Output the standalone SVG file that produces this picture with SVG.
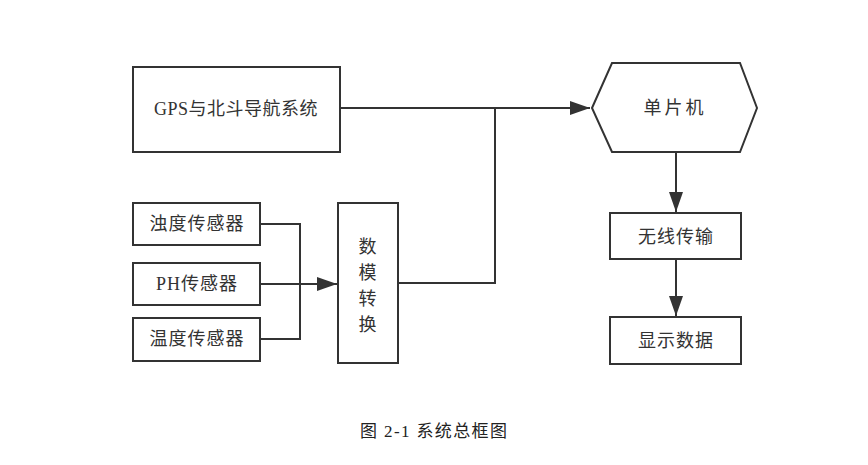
<svg xmlns="http://www.w3.org/2000/svg" width="868" height="465" viewBox="0 0 868 465">
<style>
.box{fill:#fff;stroke:#333;stroke-width:2}
.ln{fill:none;stroke:#333;stroke-width:2}
.t{font-family:"Liberation Serif","Noto Sans CJK SC",serif;font-size:18px;fill:#333;text-anchor:middle;dominant-baseline:central;letter-spacing:1px}
.cap{font-family:"Liberation Serif","Noto Sans CJK SC",serif;font-size:17px;fill:#222}
</style>
<defs>
<marker id="arL" viewBox="0 0 20 14" refX="20" refY="7" markerWidth="20" markerHeight="14" markerUnits="userSpaceOnUse" orient="auto">
<path d="M0,0 L20,7 L0,14 z" fill="#333"/>
</marker>
</defs>
<g id="connectors">
<path class="ln" d="M340,108 L590,108" marker-end="url(#arL)"/>
<path class="ln" d="M398,283 L495,283 L495,108"/>
<path class="ln" d="M260,224 L300,224 L300,339 L260,339"/>
<path class="ln" d="M260,284 L337,284" marker-end="url(#arL)"/>
<path class="ln" d="M676,152 L676,212" marker-end="url(#arL)"/>
<path class="ln" d="M676,259 L676,316" marker-end="url(#arL)"/>
</g>
<g id="gps"><rect class="box" x="133" y="67" width="207" height="85"/><text class="t" x="236" y="109" style="letter-spacing:0.5px">GPS与北斗导航系统</text></g>
<g id="mcu"><polygon class="box" points="592,108 612,63 740,63 757,108 740,152 612,152"/><text class="t" x="675" y="108" style="letter-spacing:3px">单片机</text></g>
<g id="turbidity"><rect class="box" x="133" y="203" width="127" height="42"/><text class="t" x="197" y="224">浊度传感器</text></g>
<g id="ph"><rect class="box" x="133" y="263" width="127" height="42"/><text class="t" x="197" y="284">PH传感器</text></g>
<g id="temp"><rect class="box" x="133" y="318" width="127" height="43"/><text class="t" x="197" y="339">温度传感器</text></g>
<g id="adc"><rect class="box" x="338" y="203" width="60" height="160"/>
<text class="t" x="368" y="247">数</text><text class="t" x="368" y="273">模</text><text class="t" x="368" y="299">转</text><text class="t" x="368" y="325">换</text></g>
<g id="wireless"><rect class="box" x="610" y="213" width="131" height="46"/><text class="t" x="676" y="237">无线传输</text></g>
<g id="display"><rect class="box" x="610" y="317" width="131" height="47"/><text class="t" x="676" y="341">显示数据</text></g>
<text class="cap" x="360" y="437" textLength="147" lengthAdjust="spacing">图 2-1 系统总框图</text>
</svg>
